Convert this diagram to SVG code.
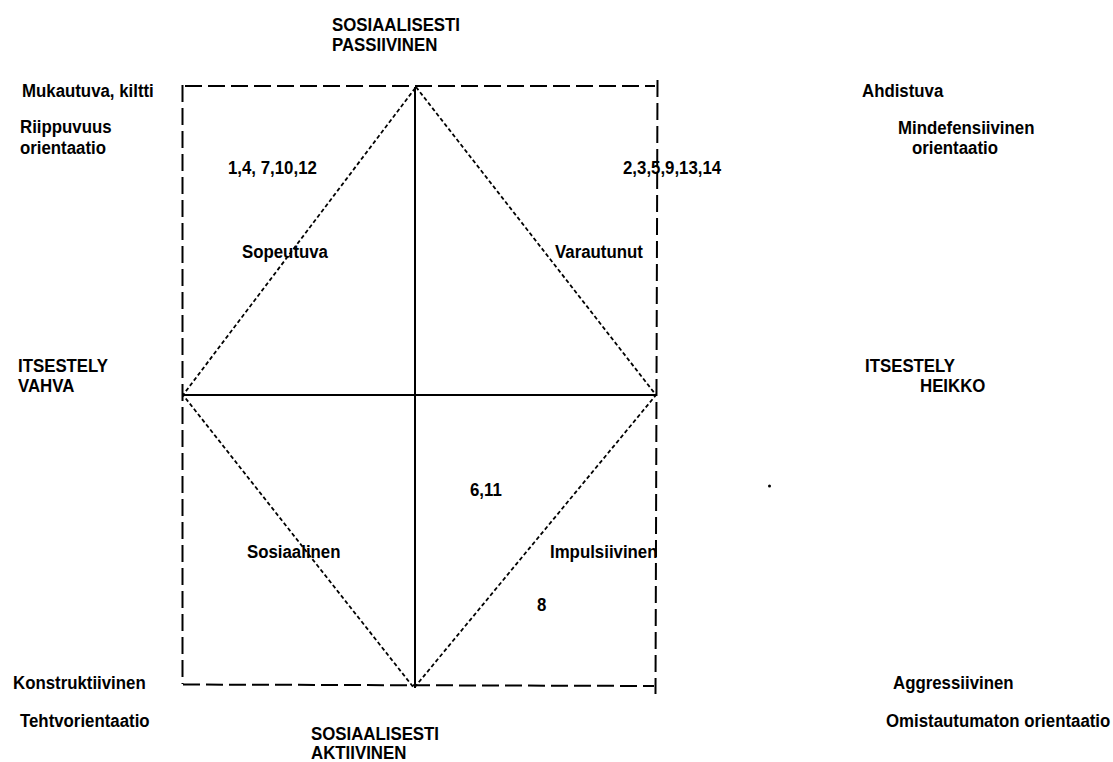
<svg xmlns="http://www.w3.org/2000/svg" width="1113" height="762" viewBox="0 0 1113 762">
  <style>
    text { font-family: "Liberation Sans", Arial, sans-serif; font-weight: bold; font-size: 18.5px; fill: #000;
           transform-box: fill-box; transform-origin: left bottom; transform: scaleX(0.91); }
    .frame { fill: none; stroke: #000; stroke-width: 2; stroke-dasharray: 17 6; }
    .axis { fill: none; stroke: #000; stroke-width: 2; }
    .diamond { fill: none; stroke: #000; stroke-width: 1.8; stroke-dasharray: 4 2.6; }
  </style>
  <rect width="1113" height="762" fill="#fff"/>

  <!-- dashed frame, axes and dotted diamond -->
  <g id="connectors">
    <line class="frame" x1="185" y1="86" x2="655" y2="86"/>
    <line class="frame" x1="182.5" y1="85" x2="182.5" y2="684"/>
    <line class="frame" x1="183" y1="684.5" x2="654" y2="686"/>
    <line class="frame" x1="657.5" y1="80" x2="655.5" y2="694"/>
    <line class="axis" x1="182" y1="395" x2="657" y2="395"/>
    <line class="axis" x1="415" y1="87" x2="415" y2="688"/>
    <polygon class="diamond" points="416,87 656,395 414,688 183,395"/>
  </g>

  <g id="top-axis"><text x="332" y="31">SOSIAALISESTI</text><text x="332" y="51">PASSIIVINEN</text></g>
  <g id="bottom-axis"><text x="311" y="740">SOSIAALISESTI</text><text x="311" y="759">AKTIIVINEN</text></g>
  <g id="left-axis"><text x="18" y="372">ITSESTELY</text><text x="18" y="392">VAHVA</text></g>
  <g id="right-axis"><text x="865" y="372">ITSESTELY</text><text x="920" y="392">HEIKKO</text></g>

  <g id="corner-top-left">
    <text x="22" y="97">Mukautuva, kiltti</text>
    <text x="20" y="133">Riippuvuus</text>
    <text x="20" y="154">orientaatio</text>
  </g>
  <g id="corner-top-right">
    <text x="862" y="97">Ahdistuva</text>
    <text x="898" y="134">Mindefensiivinen</text>
    <text x="912" y="154">orientaatio</text>
  </g>
  <g id="corner-bottom-left">
    <text x="13" y="689">Konstruktiivinen</text>
    <text x="20" y="727">Tehtvorientaatio</text>
  </g>
  <g id="corner-bottom-right">
    <text x="893" y="689">Aggressiivinen</text>
    <text x="886" y="727">Omistautumaton orientaatio</text>
  </g>

  <g id="quadrant-sopeutuva">
    <text x="228" y="174">1,4, 7,10,12</text>
    <text x="242" y="258">Sopeutuva</text>
  </g>
  <g id="quadrant-varautunut">
    <text x="623" y="174">2,3,5,9,13,14</text>
    <text x="555" y="258">Varautunut</text>
  </g>
  <g id="quadrant-sosiaalinen">
    <text x="247" y="558">Sosiaalinen</text>
  </g>
  <g id="quadrant-impulsiivinen">
    <text x="470" y="496">6,11</text>
    <text x="550" y="558">Impulsiivinen</text>
    <text x="537" y="611">8</text>
  </g>
  <circle cx="769.5" cy="486" r="1.5" fill="#000"/>
</svg>
